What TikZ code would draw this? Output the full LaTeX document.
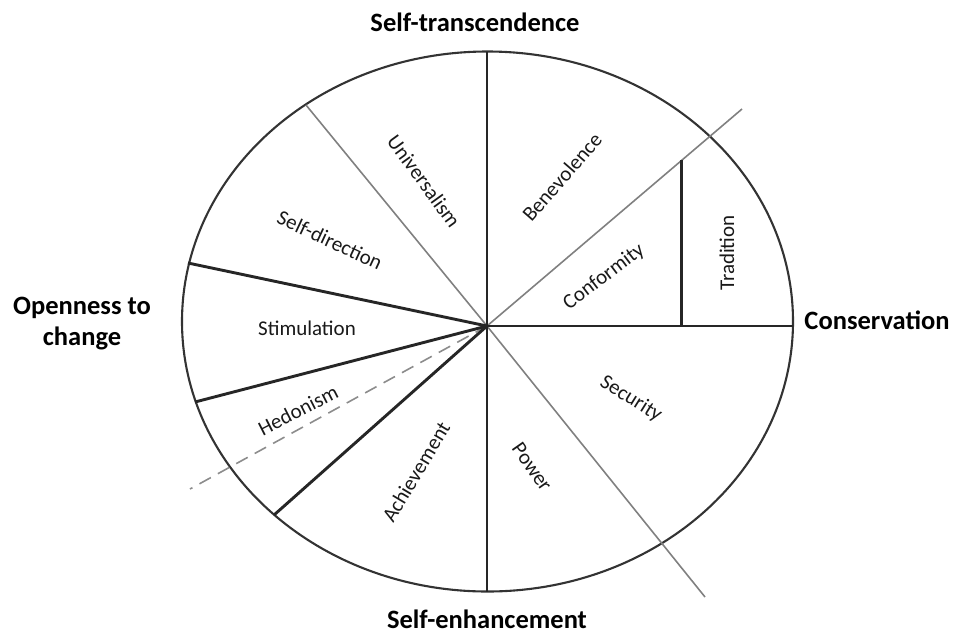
\documentclass[tikz,border=0pt]{standalone}
\usepackage{fontspec}
\setmainfont{Carlito}
\begin{document}
\begin{tikzpicture}[x=1pt,y=-1pt,
  thickline/.style={line width=2.9pt,draw=black!85},
  thinline/.style={line width=1.6pt,draw=black!50},
  dashline/.style={line width=1.6pt,draw=black!45,dash pattern=on 13pt off 8pt},
  rim/.style={line width=2.1pt,draw=black!80},
  lab/.style={font=\fontsize{21}{25}\selectfont,text=black!90,inner sep=0pt},
  head/.style={font=\bfseries\fontsize{26.5}{31}\selectfont,align=center,inner sep=0pt}]
\useasboundingbox (0,0) rectangle (955,633);
% geometry
\coordinate (E) at (487.5,321.5);
\coordinate (O) at (487,326);
\coordinate (top) at (487,51.7);
\coordinate (bot) at (487,591.5);
\coordinate (right) at (793,326);
\coordinate (univ) at (306,105);
\coordinate (sdir) at (188,263);
\coordinate (stim) at (195,402);
\coordinate (dashend) at (190,489);
\coordinate (ach) at (274,515);
\coordinate (grayNE) at (742,109);
\coordinate (graySE) at (705,597);
\coordinate (tradtop) at (681.7,160.2);
\coordinate (tradbot) at (681.7,326);
% ellipse
\draw[rim] (E) ellipse [x radius=305.5, y radius=270];
% thin gray dividers
\draw[thinline] (O) -- (univ);
\draw[thinline] (O) -- (grayNE);
\draw[thinline] (O) -- (graySE);
\draw[dashline] (O) -- (dashend);
% thick dividers
\draw[thickline] (top) -- (bot);
\draw[thickline] (O) -- (right);
\draw[thickline] (O) -- (sdir);
\draw[thickline] (O) -- (stim);
\draw[thickline] (O) -- (ach);
\draw[thickline] (tradtop) -- (tradbot);
% value labels
\node[lab,rotate=-54] (lunivers) at (424,181) {Universalism};
\node[lab,rotate=-25] (lselfdir) at (330,240) {Self-direction};
\node[lab] (lstim) at (307,328) {Stimulation};
\node[lab,rotate=27] (lhedon) at (298,410) {Hedonism};
\node[lab,rotate=59] (lachieve) at (416,472) {Achievement};
\node[lab,rotate=-55] (lpower) at (532,467) {Power};
\node[lab,rotate=-32] (lsecur) at (631,399) {Security};
\node[lab,rotate=90] (ltrad) at (727,253) {Tradition};
\node[lab,rotate=37] (lconf) at (604,277) {Conformity};
\node[lab,rotate=49] (lbenev) at (562,177) {Benevolence};
% higher-order labels
\node[head,anchor=base] (hst) at (475,31) {Self-transcendence};
\node[head,anchor=base,text depth=0pt] (hse) at (487,628) {Self-enhancement};
\node[head,anchor=base] (hco) at (877,329) {Conservation};
\node[head] (hop) at (82,324) {Openness to\\change};
\end{tikzpicture}
\end{document}
